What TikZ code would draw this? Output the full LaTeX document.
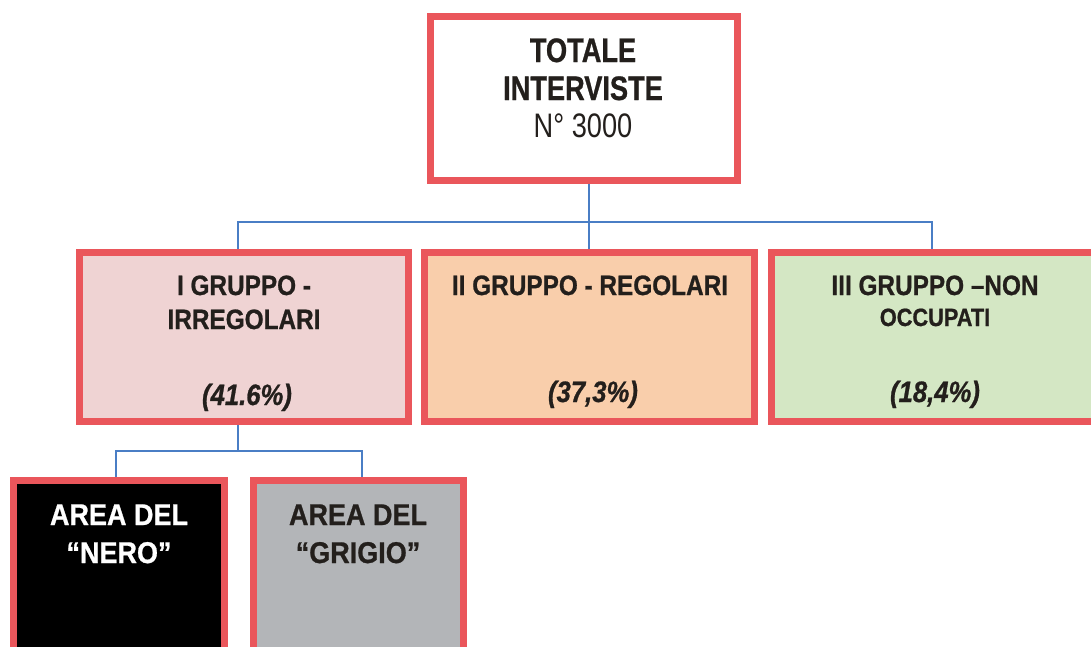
\documentclass[tikz,border=0pt]{standalone}
\usepackage{fontspec}
\setmainfont{Liberation Sans}
\newfontfamily\ftop{Liberation Sans}[FakeStretch=0.8, BoldFeatures={FakeBold=0.8}]
\newfontfamily\fmid{Liberation Sans}[FakeStretch=0.87, BoldFeatures={FakeBold=0.8}, BoldItalicFeatures={FakeBold=0.8}]
\newfontfamily\fbot{Liberation Sans}[FakeStretch=0.9, BoldFeatures={FakeBold=0.8}]
\definecolor{bordred}{HTML}{EA565B}
\definecolor{connblue}{HTML}{4A7EC5}
\definecolor{pinkfill}{HTML}{EFD3D3}
\definecolor{peachfill}{HTML}{F9CEAB}
\definecolor{greenfill}{HTML}{D4E7C4}
\definecolor{grayfill}{HTML}{B3B5B8}
\definecolor{textdark}{HTML}{231F1C}
\begin{document}
\begin{tikzpicture}[x=1pt,y=-1pt,
  box/.style={draw=bordred, line width=7pt, rectangle, inner sep=0pt},
  conn/.style={draw=connblue, line width=2pt},
  txt/.style={anchor=base, inner sep=0pt, text=textdark},
  toptxt/.style={txt, font=\ftop\bfseries\fontsize{34}{34}\selectfont},
  topreg/.style={txt, font=\ftop\fontsize{34}{34}\selectfont},
  midtxt/.style={txt, font=\fmid\bfseries\fontsize{28}{28}\selectfont},
  smalltxt/.style={txt, font=\fmid\bfseries\fontsize{25}{25}\selectfont},
  pcttxt/.style={txt, font=\fmid\bfseries\itshape\fontsize{29.5}{29.5}\selectfont},
  bottxt/.style={txt, font=\fbot\bfseries\fontsize{30}{30}\selectfont}]
\clip (0,0) rectangle (1091,646);
\fill[white] (0,0) rectangle (1091,646);
% boxes
\node[box, fill=white, minimum width=307pt, minimum height=164pt] (top) at (583.5,98) {};
\node[box, fill=pinkfill, minimum width=329pt, minimum height=169pt] (b1) at (244,337) {};
\node[box, fill=peachfill, minimum width=330pt, minimum height=169pt] (b2) at (589.5,337) {};
\node[box, fill=greenfill, minimum width=329pt, minimum height=169pt] (b3) at (936,337) {};
\node[box, fill=black, minimum width=211pt, minimum height=240pt] (nA) at (119,600.5) {};
\node[box, fill=grayfill, minimum width=210pt, minimum height=240pt] (nB) at (358.5,600.5) {};
% connectors
\coordinate (ja) at (589,222);
\coordinate (d1) at (238,222);
\coordinate (d3) at (932,222);
\draw[conn] (ja |- top.south) -- (ja |- b2.north);
\draw[conn] (d1 |- b1.north) -- (d1) -- (d3) -- (d3 |- b3.north);
\coordinate (jb) at (238,451);
\coordinate (dA) at (116,451);
\coordinate (dB) at (362,451);
\draw[conn] (jb |- b1.south) -- (jb);
\draw[conn] (dA |- nA.north) -- (dA) -- (dB) -- (dB |- nB.north);
% texts
\node[toptxt] (t1) at (583,62) {TOTALE};
\node[toptxt] (t2) at (583,100) {INTERVISTE};
\node[topreg] (t3) at (583,137) {N° 3000};
\node[midtxt] (g1a) at (244,295) {I GRUPPO -};
\node[midtxt] (g1b) at (244,329) {IRREGOLARI};
\node[pcttxt] (g1c) at (247,405) {(41.6\%)};
\node[midtxt] (g2a) at (590,295) {II GRUPPO - REGOLARI};
\node[pcttxt] (g2c) at (593,402) {(37,3\%)};
\node[midtxt] (g3a) at (935,295) {III GRUPPO –NON};
\node[smalltxt] (g3b) at (935,326) {OCCUPATI};
\node[pcttxt] (g3c) at (935,402) {(18,4\%)};
\node[bottxt, text=white] (aA1) at (119,525) {AREA DEL};
\node[bottxt, text=white] (aA2) at (119,563) {“NERO”};
\node[bottxt] (aB1) at (358,525) {AREA DEL};
\node[bottxt] (aB2) at (358,563) {“GRIGIO”};
\end{tikzpicture}
\end{document}
